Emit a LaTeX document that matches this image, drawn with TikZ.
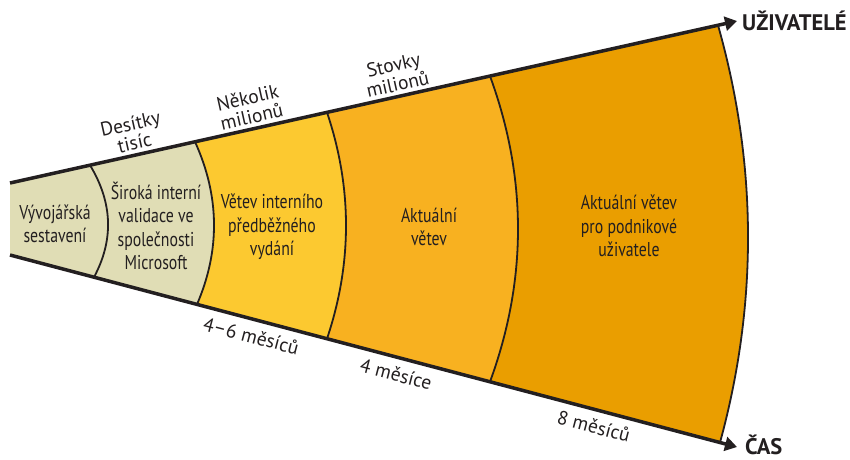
\documentclass[tikz,border=0pt]{standalone}
\usepackage{fontspec}
\setmainfont{PT Sans}
\newfontfamily\condfont[FakeStretch=0.79]{PT Sans}
\usetikzlibrary{arrows.meta,calc,positioning}
\definecolor{stagebeige}{HTML}{E0DDB5}
\definecolor{stageyellow}{HTML}{FCC930}
\definecolor{stageorange}{HTML}{F8B120}
\definecolor{stagedark}{HTML}{EA9E00}
\definecolor{ink}{HTML}{231F20}
\tikzset{
  axis/.style={ink,line width=3.5pt,-{Triangle[length=12pt,width=14pt]}},
  ring/.style={ink,line width=1.8pt},
  stage/.style={font=\condfont\fontsize{20}{23.5}\selectfont,align=center,text=ink},
  scalelbl/.style={font=\fontsize{19.5}{19.5}\selectfont,align=center,sloped,text=ink,pos=.45,inner sep=0pt},
  axlabel/.style={font=\bfseries\fontsize{22.5}{24}\selectfont,text=ink,inner sep=0pt},
}

\begin{document}
\begin{tikzpicture}[x=1pt,y=-1pt]
        \useasboundingbox (0,0) rectangle (850,459);
        \coordinate (lt) at (10,183);
        \coordinate (lb) at (10,255);
        \coordinate (ut) at (737,21);
        \coordinate (ub) at (737,447);
        % arc ends on both axes, and one control point per arc
        \foreach \n/\xt/\xb/\xm in {1/90/94/108,2/195/197/214,3/327/327/346,4/490/490/518,5/718/720/748}{
            \coordinate (t\n) at ($(lt)!{(\xt-10)/727}!(ut)$);
            \coordinate (b\n) at ($(lb)!{(\xb-10)/727}!(ub)$);
            \coordinate (c\n) at ($(t\n)!.5!(b\n)+({2*\xm-\xt-\xb},0)$);
        }
        \fill [stagebeige] (lt) -- (t2) .. controls ($(t2)!2/3!(c2)$) and ($(b2)!2/3!(c2)$) .. (b2) -- (lb) -- cycle;
        \foreach \i/\j/\col in {2/3/stageyellow,3/4/stageorange,4/5/stagedark}{
            \fill [\col] (t\i) -- (t\j) .. controls ($(t\j)!2/3!(c\j)$) and ($(b\j)!2/3!(c\j)$) .. (b\j)
                -- (b\i) .. controls ($(b\i)!2/3!(c\i)$) and ($(t\i)!2/3!(c\i)$) .. (t\i) -- cycle;
        }
        \foreach \n in {1,...,5}{
            \draw [ring] (t\n) .. controls ($(t\n)!2/3!(c\n)$) and ($(b\n)!2/3!(c\n)$) .. (b\n);
        }
        \draw [axis] (lt) -- (ut);
        \draw [axis] (lb) -- (ub);
        \node [axlabel,right=5pt of ut] (users) {UŽIVATELÉ};
        \node [axlabel,right=8pt of ub,yshift=2pt] (time) {ČAS};

        \path (t1) -- (t2) node [scalelbl,above=5pt] (tens) {Desítky\\tisíc};
        \path (t2) -- (t3) node [scalelbl,above=5pt] (few) {Několik\\milionů};
        \path (t3) -- (t4) node [scalelbl,above=5pt] (hundreds) {Stovky\\milionů};
        \path (b2) -- (b3) node [scalelbl,below=9pt] (sixmonths) {4–6 měsíců};
        \path (b3) -- (b4) node [scalelbl,below=9pt] (fourmonths) {4 měsíce};
        \path (b4) -- (b5) node [scalelbl,below=9pt,pos=.47] (eightmonths) {8 měsíců};

        \node [stage] (devbuild) at (55,224) {Vývojářská\\sestavení};
        \node [stage] (msval) at (156,226) {Široká interní\\validace ve\\společnosti\\Microsoft};
        \node [stage] (preview) at (272,227) {Větev interního\\předběžného\\vydání};
        \node [stage] (current) at (429,227) {Aktuální\\větev};
        \node [stage] (business) at (629,226) {Aktuální větev\\pro podnikové\\uživatele};
\end{tikzpicture}
\end{document}
